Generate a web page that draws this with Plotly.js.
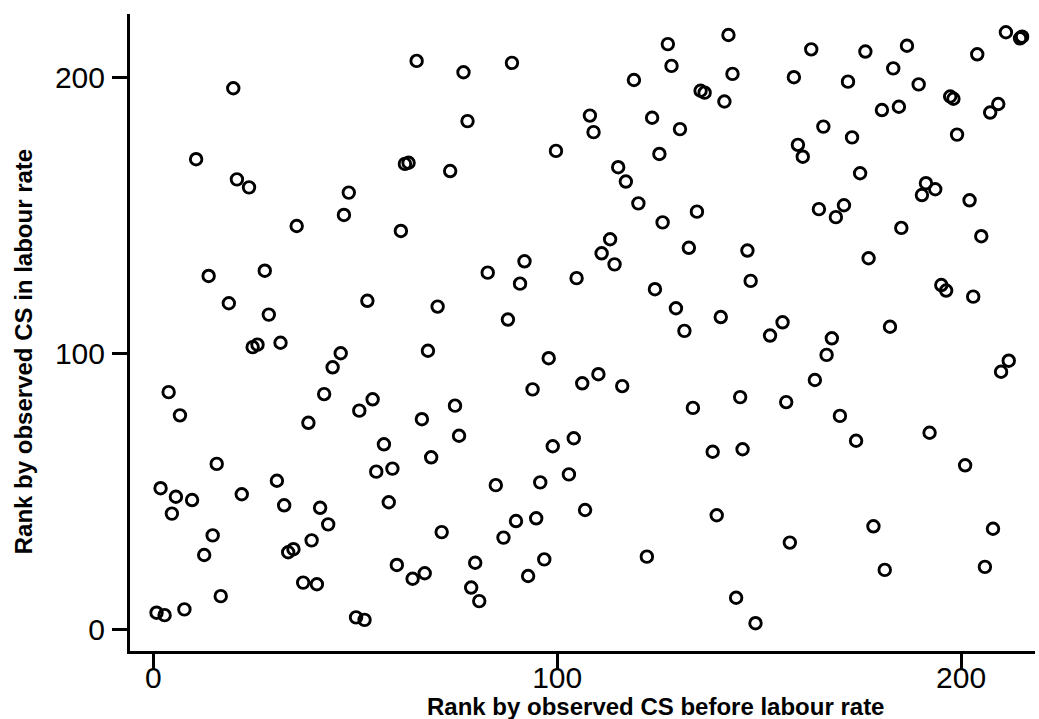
<!DOCTYPE html>
<html>
<head>
<meta charset="utf-8">
<script src="https://cdn.plot.ly/plotly-3.0.1.min.js"></script>
<style>
html,body{margin:0;padding:0;background:#fff;}
#chart{width:1039px;height:719px;}
</style>
</head>
<body>
<div id="chart"></div>
<script>
// Rank by observed CS before labour rate (x) and in labour rate (y)
const rankBefore = [
  65.2,19.8,10.6,20.7,23.7,48.4,47.2,35.5,62.3,63.2,61.3,13.7,27.6,18.7,28.6,53.0,
  24.6,25.8,31.5,46.4,44.4,68.0,3.8,6.6,42.3,51.0,54.3,38.4,66.5,57.1,55.2,59.2,68.8,15.7,1.8,5.6,9.6,4.6,21.9,30.6,32.4,41.3,43.3,58.3,14.7,12.6,39.2,33.4,34.7,37.1,40.5,60.3,64.2,67.2,16.7,0.8,2.8,7.7,50.2,52.3,
  76.8,88.8,77.8,73.5,99.7,108.1,109.0,119.0,127.4,128.3,135.5,136.5,141.4,123.5,130.4,125.3,115.1,117.0,120.1,126.1,134.6,132.6,113.1,111.0,114.2,91.9,82.8,90.8,104.8,124.2,129.4,140.5,131.5,70.4,87.8,
  97.9,93.9,106.2,110.2,116.1,133.6,138.5,139.5,74.7,75.7,98.9,104.1,95.8,102.9,84.8,106.9,94.8,89.8,86.7,71.4,79.7,78.7,80.7,92.8,96.8,122.2,
  142.4,143.4,162.9,158.6,176.3,186.6,183.2,172.0,189.5,204.0,211.1,214.6,215.1,180.4,184.6,197.3,198.1,207.2,209.2,165.9,173.0,199.0,159.6,160.8,175.0,191.3,193.6,190.3,202.1,164.8,171.0,169.0,185.2,205.0,147.1,147.9,177.1,195.1,196.3,203.0,155.8,152.7,182.4,
  168.0,166.7,163.8,211.8,209.9,145.3,156.7,170.0,174.0,192.2,201.0,145.9,178.3,207.9,157.6,181.1,205.9,144.3,149.1
];
const rankIn = [
  206.1,196.2,170.5,163.2,160.3,158.4,150.3,146.3,168.8,169.2,144.5,128.2,130.1,118.3,114.2,119.2,
  102.4,103.3,104.0,100.2,95.1,101.1,86.1,77.7,85.4,79.4,83.5,75.0,76.3,67.2,57.3,58.4,62.5,60.1,51.3,48.2,47.0,42.1,49.1,54.0,45.1,44.2,38.2,46.2,34.2,27.1,32.4,28.1,29.2,17.1,16.5,23.5,18.5,20.5,12.2,6.2,5.3,7.4,4.5,3.6,
  202.0,205.4,184.3,166.2,173.5,186.3,180.3,199.2,212.2,204.3,195.3,194.6,191.4,185.5,181.4,172.4,167.6,162.4,154.5,147.6,151.5,138.4,141.5,136.4,132.4,133.5,129.4,125.4,127.4,123.4,116.5,113.3,108.3,117.1,112.4,
  98.4,87.1,89.3,92.6,88.3,80.4,64.5,41.5,81.2,70.3,66.5,69.4,53.4,56.3,52.4,43.4,40.4,39.4,33.4,35.4,24.3,15.3,10.4,19.5,25.5,26.5,
  215.5,201.4,210.3,200.2,209.5,211.6,203.4,198.6,197.6,208.5,216.5,214.3,214.9,188.3,189.5,193.2,192.4,187.4,190.5,182.3,178.4,179.4,175.7,171.4,165.4,161.8,159.6,157.5,155.6,152.4,153.8,149.5,145.6,142.6,137.4,126.4,134.6,124.9,122.9,120.7,111.4,106.6,109.8,
  105.6,99.6,90.5,97.5,93.5,84.3,82.5,77.5,68.5,71.4,59.6,65.4,37.5,36.6,31.6,21.7,22.8,11.6,2.4
];
const tickVals = [0, 100, 200];
const tickText = ["0", "100", "200"];
const xTitle = "Rank by observed CS before labour rate";
const yTitle = "Rank by observed CS in labour rate";

const font = "Liberation Sans, Arial, Helvetica, sans-serif";

const trace = {
  type: "scatter",
  mode: "markers",
  x: rankBefore,
  y: rankIn,
  marker: {
    symbol: "circle-open",
    size: 11.5,
    color: "#000",
    line: {color: "#000", width: 2.9}
  },
  hoverinfo: "x+y"
};

const axisCommon = {
  showgrid: false,
  zeroline: false,
  showline: true,
  linecolor: "#000",
  linewidth: 3,
  ticks: "outside",
  ticklen: 15,
  tickwidth: 3,
  tickcolor: "#000",
  tickvals: tickVals,
  ticktext: tickText,
  tickfont: {family: font, size: 30, color: "#000"}
};

const layout = {
  width: 1039,
  height: 719,
  margin: {l: 130, r: 4, t: 14, b: 68},
  paper_bgcolor: "#fff",
  plot_bgcolor: "#fff",
  showlegend: false,
  xaxis: Object.assign({}, axisCommon, {range: [-5.77, 218.3], ticklabelstandoff: -17}),
  yaxis: Object.assign({}, axisCommon, {range: [-7.68, 223.1], ticklabelstandoff: 1}),
  annotations: [
    {text: "<b>" + xTitle + "</b>", xref: "paper", yref: "paper", x: 0.581, y: 0, yshift: -55,
     xanchor: "center", yanchor: "middle", showarrow: false,
     font: {family: font, size: 24, color: "#000"}},
    {text: "<b>" + yTitle + "</b>", xref: "paper", yref: "paper", x: 0, xshift: -107, y: 0.469,
     xanchor: "center", yanchor: "middle", textangle: -90, showarrow: false,
     font: {family: font, size: 24, color: "#000"}}
  ]
};

Plotly.newPlot("chart", [trace], layout, {displayModeBar: false, staticPlot: true});
</script>
</body>
</html>
